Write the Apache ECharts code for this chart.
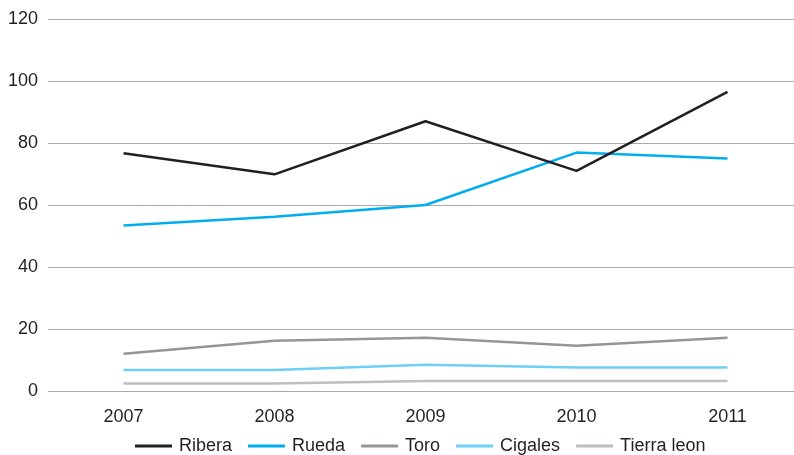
<!DOCTYPE html>
<html>
<head>
<meta charset="utf-8">
<script src="https://cdn.jsdelivr.net/npm/echarts@6/dist/echarts.min.js"></script>
<style>
  html, body { margin: 0; padding: 0; background: #fff; overflow: hidden; }
  #chart { width: 803px; height: 455px; }
</style>
</head>
<body>
<div id="chart"></div>
<script>
// data
const years = ['2007', '2008', '2009', '2010', '2011']
const ribera = [76.7, 69.9, 87.0, 71.0, 96.5]
const rueda = [53.4, 56.2, 60.0, 76.9, 75.0]
const toro = [12.0, 16.2, 17.2, 14.6, 17.2]
const cigales = [6.8, 6.8, 8.5, 7.6, 7.6]
const tierraLeon = [2.4, 2.4, 3.2, 3.2, 3.2]

const names = ['Ribera', 'Rueda', 'Toro', 'Cigales', 'Tierra leon']
const colors = ['#231f20', '#00aeef', '#939598', '#6dcff6', '#bcbec0']
const values = [ribera, rueda, toro, cigales, tierraLeon]

// the plot runs a bit past the right edge of the 794px window
const chart = echarts.init(document.getElementById('chart'))
const font = 'Liberation Sans, Arial, Helvetica, sans-serif'

const option = {
  animation: false,
  color: colors,
  textStyle: { fontFamily: font },
  grid: {
    left: 48,
    right: 0,
    top: 19,
    bottom: 64
  },
  legend: {
    left: 130,
    top: 432,
    icon: 'rect',
    itemWidth: 37,
    itemHeight: 3,
    itemGap: 16,
    textStyle: { fontSize: 18, color: '#231f20', fontFamily: font, padding: [0, 0, 0, 2] },
    data: names
  },
  xAxis: {
    type: 'category',
    data: years,
    boundaryGap: true,
    axisLine: { show: false },
    axisTick: { show: false },
    axisLabel: { fontSize: 18, color: '#231f20', margin: 17 }
  },
  yAxis: {
    type: 'value',
    min: 0,
    max: 120,
    interval: 20,
    axisLine: { show: false },
    axisTick: { show: false },
    axisLabel: { fontSize: 18, color: '#231f20', margin: 10 },
    splitLine: { lineStyle: { color: '#aaaaaa', width: 1 } }
  },
  series: names.map((n, i) => ({
    name: n,
    type: 'line',
    data: values[i],
    symbol: 'none',
    z: 10 - i,
    lineStyle: { width: 2.5, color: colors[i] }
  }))
}
option && chart.setOption(option)
</script>
</body>
</html>
